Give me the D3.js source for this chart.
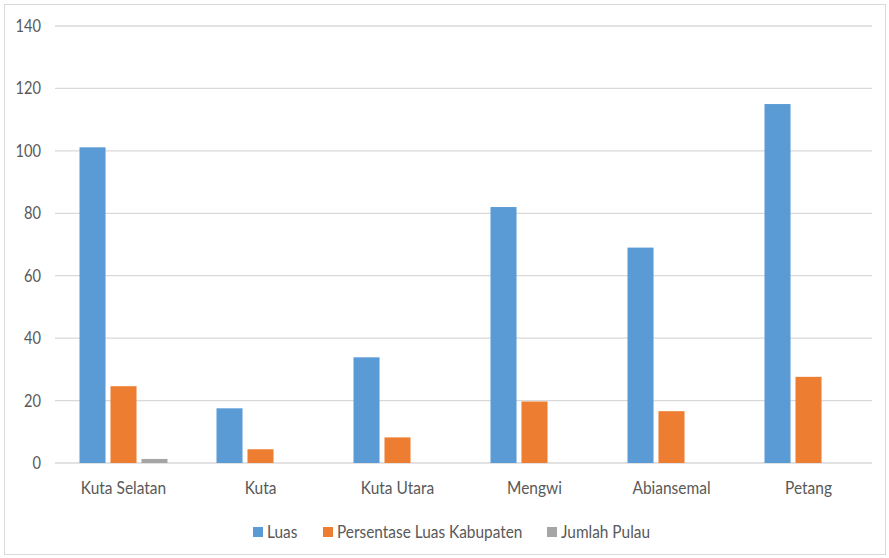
<!DOCTYPE html>
<html><head><meta charset="utf-8">
<script src="https://cdn.jsdelivr.net/npm/d3@7"></script>
<style>body{margin:0;background:#fff}svg{display:block}text{font-family:Lato,sans-serif;fill:#595959}</style>
</head><body><svg id="c" width="889" height="558"></svg>
<script>
const categories = ["Kuta Selatan","Kuta","Kuta Utara","Mengwi","Abiansemal","Petang"];
const seriesNames = ["Luas","Persentase Luas Kabupaten","Jumlah Pulau"];
const luas = [101.13, 17.52, 33.86, 82.0, 69.01, 115.0];
const persen = [24.6, 4.4, 8.2, 19.7, 16.6, 27.6];
const pulau = [1.3, 0, 0, 0, 0, 0];
const yTicks = [0,20,40,60,80,100,120,140];
const colors = ["#5b9bd5","#ed7d31","#a5a5a5"];

const FONT = 'Lato,sans-serif';
const series = [luas, persen, pulau];
const svg = d3.select("#c");
svg.append("rect").attr("x",4.5).attr("y",4.5).attr("width",881).attr("height",550)
  .attr("fill","#fff").attr("stroke","#d9d9d9");

const x0 = d3.scaleBand().domain(categories).range([55,877]);
const x1 = d3.scaleBand().domain(seriesNames).range([0,88]).paddingInner(0.16);
const y = d3.scaleLinear().domain([0,140]).range([463,26]);

function condense(sel, f){
  sel.each(function(){
    const L = this.getComputedTextLength();
    d3.select(this).attr("textLength", L*f).attr("lengthAdjust","spacingAndGlyphs");
  });
}

svg.append("g").selectAll("line").data(yTicks).join("line")
  .attr("x1",55).attr("x2",872).attr("y1",d=>y(d)).attr("y2",d=>y(d))
  .attr("stroke","#d9d9d9").attr("stroke-width",1.3);

const yAxis = d3.axisLeft(y).tickValues(yTicks).tickSize(0).tickPadding(0);
svg.append("g").attr("transform","translate(41,0)").call(yAxis)
  .call(s=>s.select(".domain").remove())
  .selectAll("text").attr("font-size",17).style("font-family",FONT).attr("fill","#595959")
  .call(condense,0.86);

const xAxis = d3.axisBottom(x0).tickSize(0).tickPadding(0);
svg.append("g").attr("transform","translate(0,481)").call(xAxis)
  .call(s=>s.select(".domain").remove())
  .selectAll("text").attr("font-size",18).style("font-family",FONT).attr("fill","#595959")
  .call(condense,0.86);

const groups = svg.append("g").selectAll("g").data(categories).join("g")
  .attr("transform",d=>`translate(${x0(d)+(x0.bandwidth()-88)/2},0)`);
groups.selectAll("rect").data((d,i)=>series.map((s,j)=>({name:seriesNames[j],v:s[i],c:colors[j]})).filter(o=>o.v>0))
  .join("rect")
  .attr("x",o=>x1(o.name)).attr("width",x1.bandwidth())
  .attr("y",o=>y(o.v)).attr("height",o=>y(0)-y(o.v))
  .attr("fill",o=>o.c);

// legend
const legX = [253, 323, 547];
const leg = svg.append("g").selectAll("g").data(seriesNames).join("g")
  .attr("transform",(d,i)=>`translate(${legX[i]},527)`);
leg.append("rect").attr("width",10).attr("height",10).attr("fill",(d,i)=>colors[i]);
leg.append("text").attr("x",14).attr("y",11).attr("font-size",17.5).style("font-family",FONT).text(d=>d)
  .call(condense,0.88);
</script></body></html>
